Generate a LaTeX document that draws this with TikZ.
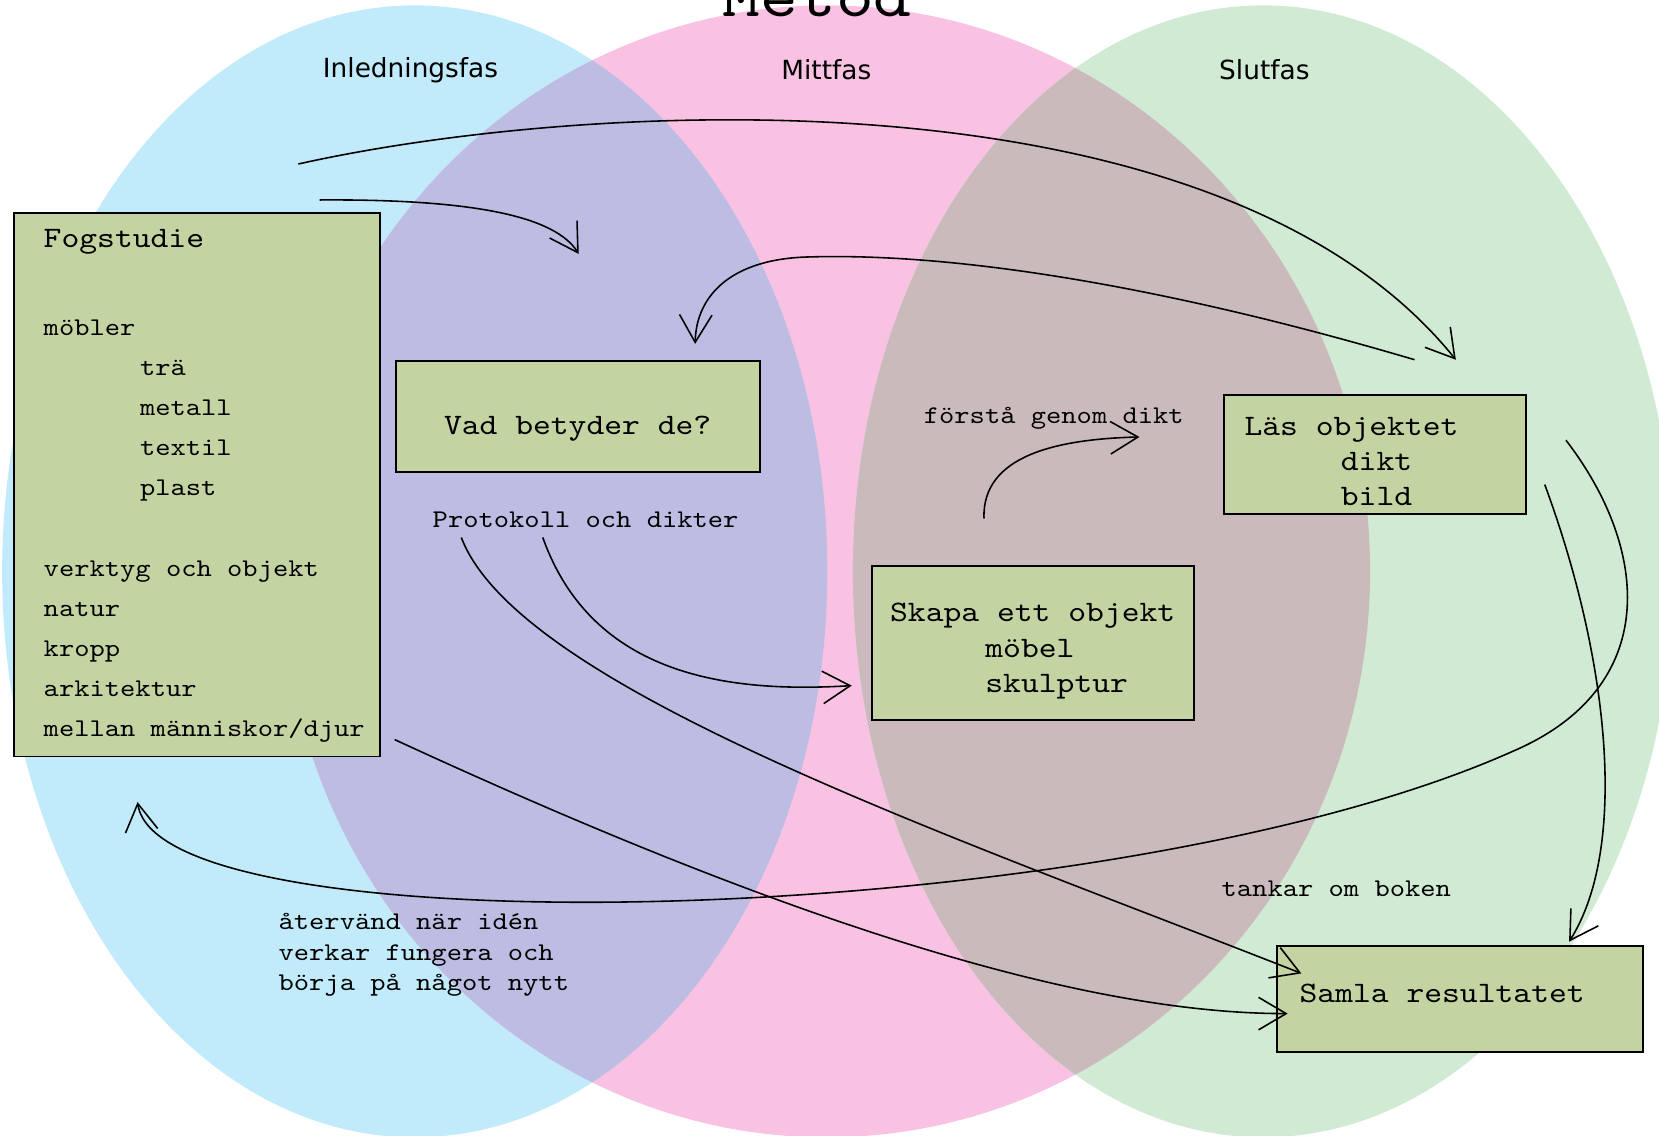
\documentclass[tikz,border=0pt]{standalone}
\usepackage{fontspec}
\setmonofont{lmmono10-regular.otf}[FakeStretch=1.143]
\newfontfamily\headfont{DejaVu Sans}
\usepackage{xcolor}
\usepackage{tikz}
\usetikzlibrary{positioning}
\usetikzlibrary{arrows.meta}

\definecolor{fasblue}{HTML}{C1EBFA}
\definecolor{faspink}{HTML}{F9C2E3}
\definecolor{fasgreen}{HTML}{D1EAD3}
\definecolor{faslila}{HTML}{BDBDE4}
\definecolor{fasbrown}{HTML}{CBBABC}
\definecolor{boxgreen}{HTML}{C3D3A2}

\begin{document}
\begin{tikzpicture}[x=0.021161cm, y=-0.021161cm,
    box/.style={draw, rectangle, line width=1.1pt, fill=boxgreen, inner sep=0pt,
        font=\ttfamily\fontsize{16.9pt}{20pt}\selectfont},
    boxtext/.style={inner sep=0pt, align=left, font=\ttfamily\fontsize{16.9pt}{20pt}\selectfont},
    lbl/.style={inner sep=0pt, font=\ttfamily\fontsize{14.5pt}{17.4pt}\selectfont},
    fas/.style={inner sep=0pt, font=\headfont\fontsize{15pt}{18pt}\selectfont},
    pil/.style={-{Straight Barb[length=5.5mm,width=6.5mm]}, line width=0.9pt}]
    \useasboundingbox (0,0) rectangle (1568,1073);
    % Phases
    \fill [fasblue] (392,540) ellipse [x radius=8.253cm, y radius=11.321cm];
    \fill [faspink] (781,540) ellipse [x radius=10.877cm, y radius=11.321cm];
    \fill [fasgreen] (1194,540) ellipse [x radius=8.210cm, y radius=11.321cm];
    \begin{scope}
        \clip (392,540) ellipse [x radius=8.253cm, y radius=11.321cm];
        \fill [faslila] (781,540) ellipse [x radius=10.877cm, y radius=11.321cm];
    \end{scope}
    \begin{scope}
        \clip (1194,540) ellipse [x radius=8.210cm, y radius=11.321cm];
        \fill [fasbrown] (781,540) ellipse [x radius=10.877cm, y radius=11.321cm];
    \end{scope}

    % Titles
    \node [anchor=base, inner sep=0pt, font=\ttfamily\fontsize{35.8pt}{40pt}\selectfont] (metod) at (772.5,16) {Metod};
    \node [fas] (inled) at (388,66) {Inledningsfas};
    \node [fas] (mitt) at (781,66) {Mittfas};
    \node [fas] (slut) at (1195,66) {Slutfas};

    % Nodes
    \node [box, anchor=north west, minimum width=7.32cm, minimum height=10.88cm] (fog) at (12,200) {};
    \node [boxtext, font=\ttfamily\fontsize{14.5pt}{22.8pt}\selectfont, below right=0.34cm and 0.614cm of fog.north west] (fogtext)
        {{\fontsize{16.9pt}{22.8pt}\selectfont Fogstudie}\\[27.6pt]
        möbler\\
        \hspace*{1.926cm}trä\\
        \hspace*{1.926cm}metall\\
        \hspace*{1.926cm}textil\\
        \hspace*{1.926cm}plast\\[22.8pt]
        verktyg och objekt\\
        natur\\
        kropp\\
        arkitektur\\
        mellan människor/djur};
    \node [box, minimum width=7.28cm, minimum height=2.222cm, text height=0.84cm, text depth=0.1cm] (vad) at (546,393.5) {Vad betyder de?};
    \node [box, anchor=north west, minimum width=6.454cm, minimum height=3.09cm] (skapa) at (823,534) {};
    \node [boxtext, font=\ttfamily\fontsize{16.9pt}{20.1pt}\selectfont, below right=0.76cm and 0.381cm of skapa.north west] (skapatext)
        {Skapa ett objekt\\ \hspace*{1.905cm}möbel\\ \hspace*{1.905cm}skulptur};
    \node [box, anchor=north west, minimum width=6.031cm, minimum height=2.391cm] (las) at (1156,372) {};
    \node [boxtext, font=\ttfamily\fontsize{16.9pt}{19.9pt}\selectfont, below right=0.47cm and 0.423cm of las.north west] (lastext)
        {Läs objektet\\ \hspace*{1.926cm}dikt\\ \hspace*{1.926cm}bild};
    \node [box, anchor=north west, minimum width=7.32cm, minimum height=2.116cm] (samla) at (1206,893) {};
    \node [boxtext, below right=0.78cm and 0.466cm of samla.north west] (samlatext) {Samla resultatet};

    % Labels
    \node [lbl, anchor=base] (prot) at (553.5,499) {Protokoll och dikter};
    \node [lbl, anchor=base] (forsta) at (996,400) {förstå genom dikt};
    \node [lbl, anchor=base] (tankar) at (1263,847) {tankar om boken};
    \node [lbl, anchor=north west, align=left] (atervand) at (263,863) {återvänd när idén\\verkar fungera och\\börja på något nytt};

    % Arrow ends
    \coordinate (p1) at (282,155);  \coordinate (q1) at (1376,340);
    \coordinate (p2) at (302,189);  \coordinate (q2) at (547,240);
    \coordinate (p3) at (1337,340); \coordinate (q3) at (657,325);
    \coordinate (p4) at (930,490);  \coordinate (q4) at (1077,413);
    \coordinate (p5) at (513,508);  \coordinate (q5) at (805,648);
    \coordinate (p6) at (436,508);  \coordinate (q6) at (1230,920);
    \coordinate (p7) at (373,699);  \coordinate (q7) at (1217,958);
    \coordinate (p8) at (1480,416); \coordinate (q8) at (130,758);
    \coordinate (p9) at (1460,458); \coordinate (q9) at (1483,890);

    % Arrows
    \draw [pil] (p1) .. controls (550,95) and (1150,60) .. (q1);
    \draw [pil] (p2) .. controls (450,188) and (525,205) .. (q2);
    \draw [pil] (p3) .. controls (1100,270) and (900,238) .. (760,243) .. controls (690,246) and (658,280) .. (q3);
    \draw [pil] (p4) .. controls (928,430) and (1000,415) .. (q4);
    \draw [pil] (p5) .. controls (560,640) and (690,655) .. (q5);
    \draw [pil] (p6) .. controls (490,650) and (900,790) .. (q6);
    \draw [pil] (p7) .. controls (700,850) and (1000,958) .. (q7);
    \draw [pil] (p8) .. controls (1560,520) and (1570,650) .. (1430,710) .. controls (1050,880) and (150,900) .. (q8);
    \draw [pil] (p9) .. controls (1520,620) and (1540,800) .. (q9);
\end{tikzpicture}
\end{document}
